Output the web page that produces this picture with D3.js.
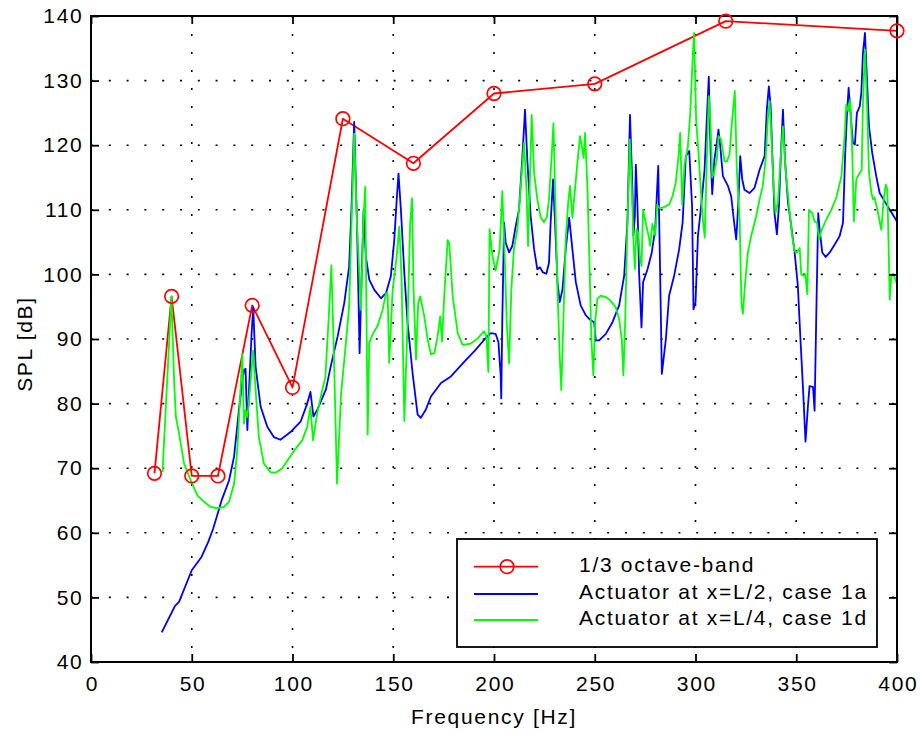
<!DOCTYPE html>
<html>
<head>
<meta charset="utf-8">
<script src="https://cdn.jsdelivr.net/npm/d3@7"></script>
<style>
  html, body { margin: 0; padding: 0; background: #fff; }
  svg text {
    font-family: "Liberation Sans", Arial, Helvetica, sans-serif;
    font-size: 21px;
    letter-spacing: 1.7px;
    fill: #000;
  }
</style>
</head>
<body>
<div id="chart"></div>
<script>
// tick values
const xTicks = [0, 50, 100, 150, 200, 250, 300, 350, 400];
const yTicks = [40, 50, 60, 70, 80, 90, 100, 110, 120, 130, 140];

// 1/3 octave-band levels
const bandFreq = [31.5, 40, 50, 63, 80, 100, 125, 160, 200, 250, 315, 400];
const bandSpl = [69.2, 96.6, 68.8, 68.8, 95.2, 82.5, 124.1, 117.2, 128.0, 129.5, 139.2, 137.7];

// actuator at x=L/2, case 1a  [Hz, dB]
const case1a = [
  [35.1, 44.6], [41.7, 48.7], [43.7, 49.3], [50, 54.2], [54.9, 56.3], [58.2, 58.6],
  [60.7, 60.7], [64.9, 65.1], [68.5, 68.1], [71, 71.8], [73.4, 79], [75, 83.1],
  [75.9, 85.2], [76.7, 85.4], [77.6, 75.9], [78.4, 82], [79.7, 90.8], [80.5, 94.9],
  [81.7, 85.7], [84.2, 79.5], [87.5, 76.4], [90.8, 74.8], [94, 74.4], [99, 75.6],
  [104, 77.2], [107.3, 80], [108.9, 81.8], [110.4, 78], [112.4, 79.1], [116.6, 82.2],
  [119, 85.8], [122.4, 90.4], [125.7, 95.6], [128.1, 101.2], [129.3, 110.5], [130.6, 123.6],
  [132, 107.9], [133.3, 87.8], [134.3, 99.7], [135.3, 110], [136.4, 102.8], [138.1, 99.2],
  [140.6, 97.6], [143.9, 96.3], [146.4, 97.1], [148.8, 99.7], [150.5, 105.3], [151.7, 111.5],
  [152.6, 115.6], [153.8, 110], [155.5, 100.2], [157.1, 92.5], [159.6, 84.7], [162.1, 78.3],
  [163.7, 77.8], [166.2, 79.1], [168.7, 81.1], [173.7, 83.2], [178.6, 84.2], [185.3, 86.5],
  [190.5, 88.2], [195.5, 90], [198.3, 90.9], [200.8, 90.8], [202.2, 89.5], [203.3, 84.4],
  [203.6, 80.8], [204.1, 92.6], [205, 108], [205.8, 104.9], [207.5, 103.4], [209.1, 104.4],
  [210.8, 107.5], [212.4, 110], [214.1, 118.3], [215.4, 125.5], [216.6, 117.3], [218.2, 109],
  [219.9, 103.9], [221.5, 100.8], [222.8, 101.1], [224.3, 100.3], [226, 100.1], [227.3, 101.8],
  [228.1, 108], [229.3, 114.7], [230.3, 108], [231.5, 98.8], [232.6, 95.7], [234, 97.7],
  [235.6, 103.9], [237.3, 108.8], [238.9, 103.9], [240.6, 98.8], [243, 95.2], [245.5, 93.7],
  [248, 92.9], [249.7, 92.6], [250.5, 89.8], [252.2, 89.8], [255.5, 90.8], [258.8, 92.6],
  [262.1, 95.2], [264.6, 99.8], [266.2, 108], [267.5, 124.7], [268.7, 113.2], [269.2, 106],
  [269.9, 109], [270.4, 117], [271.2, 110.6], [272, 100.3], [273.2, 91.8], [274, 98.8],
  [276.2, 100.8], [278.3, 103.4], [280, 107], [281.5, 116.8], [282.3, 102.9], [283.3, 84.6],
  [285.3, 90], [286.9, 96.7], [289.4, 99.8], [291.9, 103.9], [293.6, 108], [295.2, 118.3],
  [296.9, 119.1], [298.3, 110.6], [299, 94.6], [300, 95.6], [301.2, 105.9], [302.8, 110.6],
  [304.5, 116.2], [305.6, 124], [306.6, 130.6], [307.5, 118.8], [308.3, 112.4], [309.4, 117.8],
  [310.6, 120.4], [311.4, 122.4], [312.3, 119.8], [313.6, 115.2], [316.1, 113.7], [317.7, 112.1],
  [319, 108.5], [320.2, 105.4], [321.2, 110.6], [322.2, 118.3], [323.2, 114.7], [324.3, 113.1],
  [326.8, 112.6], [329.3, 113.4], [331.8, 116.2], [334.3, 118.3], [335.4, 125.5], [336.4, 129.1],
  [337.3, 126], [338.1, 118.8], [339.2, 109.5], [340.4, 106.2], [341.4, 110.6], [342.4, 118.8],
  [343.4, 125.5], [344.4, 117.8], [345.9, 111.1], [347.5, 107.5], [349.2, 103.4], [350.8, 98.2],
  [352, 90.5], [353.3, 82.7], [354.6, 74.1], [355.8, 79.6], [356.6, 82.7], [358.3, 82.6],
  [359.1, 78.9], [359.9, 93], [360.9, 109.5], [361.6, 107], [362.9, 103.4], [364.6, 102.7],
  [366.6, 103.4], [369, 104.6], [371.5, 105.9], [373.2, 108], [374.3, 118.8], [375.2, 125],
  [376, 128.9], [376.8, 125.5], [378.1, 120.4], [379.1, 120.1], [380.1, 125], [381.5, 126],
  [382.3, 128.1], [383.1, 134.3], [384.1, 137.4], [385.1, 130.2], [386.1, 122.9], [387.7, 118.8],
  [389.7, 115.2], [391.4, 112.6], [393.9, 111.3], [396.4, 110], [398.8, 108.8], [400, 108.2]
];

// actuator at x=L/4, case 1d  [Hz, dB]
const case1d = [
  [35.5, 69.4], [39.9, 96.5], [41.3, 83.1], [42.1, 78], [43.7, 75.4], [46.2, 70.7],
  [49.5, 68.1], [52.8, 65.8], [56.1, 64.8], [59.4, 64], [62.7, 63.8], [66, 64],
  [68.5, 64.8], [71, 67.6], [72.6, 72.8], [73.9, 80.5], [75.1, 87.7], [75.9, 76.9],
  [76.7, 79], [77.6, 77.9], [78.9, 82.1], [80.4, 88.2], [81.7, 82.1], [83.3, 74.8],
  [85.8, 70.7], [89.1, 69.4], [91.6, 69.3], [94.9, 70], [98.2, 71.5], [101.5, 73],
  [104.8, 74.3], [107.3, 76.4], [108.9, 79.5], [110.2, 74.3], [112.2, 78.4], [114.7, 82],
  [116.3, 84.1], [118, 93.4], [119.3, 101.4], [120.5, 88.2], [122.1, 67.6], [124.1, 81.5],
  [126.5, 89.4], [128.1, 95], [129.3, 107.9], [130.6, 121.8], [132, 107.9], [134, 94.5],
  [135.1, 107.9], [136.1, 113.6], [136.6, 97.6], [137.3, 75.2], [138.1, 89.4], [139.7, 90.7],
  [142.2, 92], [144.7, 94.5], [146.4, 97.1], [147.2, 97.1], [148, 86.3], [149.7, 97.6],
  [151.7, 102.8], [153, 107.4], [154.1, 99.7], [155.5, 77.3], [157.1, 92.5], [158.4, 107.9],
  [159.3, 111.8], [160.1, 97.6], [161.3, 86.8], [162.4, 95.6], [163.4, 96.6], [165.4, 93.5],
  [167.1, 89.9], [168.7, 87.6], [170.4, 87.8], [172, 90.4], [173.3, 93.5], [174.2, 89.6],
  [175.3, 96.6], [177, 105.3], [177.8, 104.8], [179.5, 96.6], [182, 90.9], [184.4, 89.1],
  [188.6, 89.3], [191.9, 90.1], [195, 91.2], [196.2, 90.5], [197.2, 84.9], [197.8, 107],
  [199.2, 102.9], [200.8, 100.6], [202.8, 103.9], [204.1, 112.9], [205.3, 102.9], [206.3, 92.6],
  [207.5, 86.2], [208.6, 97.7], [209.9, 103.9], [211.6, 107], [213.2, 113.2], [214.9, 120.4],
  [216.1, 113.2], [216.9, 104.4], [217.7, 113.2], [218.7, 124.7], [219.9, 115.7], [221.5, 111.6],
  [223.2, 108.8], [224.8, 108.1], [226.2, 108.8], [227.3, 111.6], [228.6, 118.3], [229.5, 123.4],
  [230.3, 113.2], [231.5, 97.7], [232.6, 87.4], [233.4, 82.1], [234.4, 92.6], [235.6, 105.4],
  [236.8, 111.1], [237.7, 113.7], [238.9, 108.8], [240.2, 113.2], [241.4, 117.3], [242.7, 121.4],
  [243.9, 119.3], [244.5, 118], [245.2, 121.9], [246.4, 113.2], [247.5, 100.3], [248.3, 90],
  [249.3, 84.4], [250.2, 92.6], [251.3, 96.2], [253, 96.7], [255.5, 96.5], [257.9, 95.9],
  [260.4, 94.9], [262.1, 93.1], [263.4, 90], [264.2, 84.4], [265.1, 92.6], [266.2, 108],
  [267.4, 120.9], [268.4, 113.2], [269.2, 105.5], [269.9, 100.8], [270.7, 107], [271.5, 106.5],
  [272.4, 102.9], [273.2, 101.3], [274, 110], [275.3, 108], [276.7, 106], [277.5, 104.4],
  [278.6, 107.8], [280, 106], [281, 110.8], [282, 110.3], [283.6, 110.3], [285.3, 110.6],
  [286.9, 110.8], [288.6, 112.1], [290.2, 114.2], [291.6, 118.3], [292.4, 121.9], [293.4, 110.8],
  [294.5, 116.8], [296.2, 119.8], [297.4, 125], [298.7, 134.3], [299.3, 137.4], [300.3, 124],
  [301.5, 118.8], [302.5, 113.7], [303.6, 108.5], [304.6, 105.7], [305.6, 117.8], [306.6, 127.6],
  [307.5, 122.9], [308.3, 115], [309.4, 116], [310.6, 117.8], [311.4, 121.4], [312.7, 120.9],
  [314.4, 117.5], [315.6, 117.5], [316.9, 118.6], [318.2, 124], [319.5, 128.4], [320.5, 116.2],
  [321.9, 108.5], [322.8, 95.6], [323.5, 93.9], [324.5, 98.2], [326, 103.4], [327.6, 105.9],
  [330.1, 109], [331.8, 111.6], [333.4, 113.7], [334.8, 117.8], [335.9, 124], [336.8, 126.8],
  [337.6, 121.9], [338.7, 113.7], [339.7, 109.5], [340.9, 111.1], [342.2, 117.8], [343.4, 122.9],
  [344.7, 116.2], [346.4, 110.6], [348, 105.9], [349.2, 103.6], [350.3, 103.4], [351.7, 104.1],
  [352.5, 100], [353.6, 99.8], [354.5, 100], [355.5, 96.9], [356.3, 110], [357.9, 109.5],
  [359.1, 108.2], [360.3, 108], [361.3, 105.4], [362.4, 106.7], [364.9, 108.5], [367.4, 110],
  [369.9, 111.9], [372.4, 115.2], [374, 121.4], [374.8, 126.3], [375.8, 125.3], [376.8, 127.1],
  [377.8, 118.8], [378.6, 108.2], [379.8, 114.7], [381.5, 115.7], [382.5, 116.2], [383.1, 126.5],
  [384.1, 134.8], [385.1, 126.5], [386.1, 115.7], [387.3, 112.6], [388.1, 111.6], [388.9, 111.9],
  [390.6, 109.5], [392.2, 106.9], [393.4, 111.6], [394.4, 113.9], [395.2, 113.1], [395.9, 103.4],
  [396.4, 96.1], [397.2, 99.7], [398.2, 100], [399.2, 99.2], [400, 98.5]
];

const legendLabels = ['1/3 octave-band', 'Actuator at x=L/2, case 1a', 'Actuator at x=L/4, case 1d'];
const seriesColors = ['#ff0000', '#0000ff', '#00ff00'];

const width = 920, height = 733;
const margin = { left: 91, right: 23, top: 16, bottom: 71 };
const plotW = width - margin.left - margin.right;
const plotH = height - margin.top - margin.bottom;

const svg = d3.select('#chart')
    .append('svg')
    .attr('width', width)
    .attr('height', height)
    .attr('viewBox', [0, 0, width, height]);

const x = d3.scaleLinear().domain([0, 400]).range([margin.left, margin.left + plotW]);
const y = d3.scaleLinear().domain([40, 140]).range([margin.top + plotH, margin.top]);

// dotted grid
const grid = svg.append('g').attr('class', 'grid');
grid.selectAll('line.h')
    .data(yTicks.slice(1, -1))
    .join('line')
    .attr('class', 'h')
    .attr('x1', x(0)).attr('x2', x(400))
    .attr('y1', d => y(d)).attr('y2', d => y(d))
    .attr('stroke', '#000')
    .attr('stroke-width', 1.6)
    .attr('stroke-dasharray', '2,15.8');
grid.selectAll('line.v')
    .data(xTicks.slice(1, -1))
    .join('line')
    .attr('class', 'v')
    .attr('x1', d => x(d)).attr('x2', d => x(d))
    .attr('y1', y(140)).attr('y2', y(40))
    .attr('stroke', '#000')
    .attr('stroke-width', 1.6)
    .attr('stroke-dasharray', '2,16');

// data lines
const line = d3.line().x(d => x(d[0])).y(d => y(d[1]));
const bandPts = bandFreq.map((f, i) => [f, bandSpl[i]]);

svg.append('path')
    .datum(bandPts)
    .attr('d', line)
    .attr('fill', 'none')
    .attr('stroke', seriesColors[0])
    .attr('stroke-width', 1.8)
    .attr('stroke-linejoin', 'round');

svg.append('path')
    .datum(case1a)
    .attr('d', line)
    .attr('fill', 'none')
    .attr('stroke', seriesColors[1])
    .attr('stroke-width', 1.8)
    .attr('stroke-linejoin', 'round');

svg.append('path')
    .datum(case1d)
    .attr('d', line)
    .attr('fill', 'none')
    .attr('stroke', seriesColors[2])
    .attr('stroke-width', 1.8)
    .attr('stroke-linejoin', 'round');

// axes (ticks pointing inward)
const tickLen = 8;
const axes = svg.append('g').attr('class', 'axes');

const xAxis = axes.append('g')
    .attr('transform', `translate(0,${y(40)})`)
    .call(d3.axisBottom(x).tickValues(xTicks).tickSize(-tickLen).tickSizeOuter(0).tickPadding(14));
const yAxis = axes.append('g')
    .attr('transform', `translate(${x(0)},0)`)
    .call(d3.axisLeft(y).tickValues(yTicks).tickSize(-tickLen).tickSizeOuter(0).tickPadding(7.5));
axes.append('g')
    .attr('transform', `translate(0,${y(140)})`)
    .call(d3.axisTop(x).tickValues(xTicks).tickSize(-tickLen).tickSizeOuter(0).tickFormat(''));
axes.append('g')
    .attr('transform', `translate(${x(400)},0)`)
    .call(d3.axisRight(y).tickValues(yTicks).tickSize(-tickLen).tickSizeOuter(0).tickFormat(''));

axes.selectAll('.domain').remove();
axes.selectAll('.tick line').attr('stroke', '#000').attr('stroke-width', 1.8);
xAxis.selectAll('.tick text').attr('dx', '0.85');

axes.append('rect')
    .attr('x', x(0)).attr('y', y(140))
    .attr('width', x(400) - x(0)).attr('height', y(40) - y(140))
    .attr('fill', 'none')
    .attr('stroke', '#000')
    .attr('stroke-width', 2);

// markers on top
svg.append('g')
    .selectAll('circle')
    .data(bandPts)
    .join('circle')
    .attr('cx', d => x(d[0]))
    .attr('cy', d => y(d[1]))
    .attr('r', 6.8)
    .attr('fill', 'none')
    .attr('stroke', seriesColors[0])
    .attr('stroke-width', 1.7);

// axis labels
svg.append('text')
    .attr('x', (x(0) + x(400)) / 2)
    .attr('y', 724)
    .attr('text-anchor', 'middle')
    .text('Frequency [Hz]');

svg.append('text')
    .attr('transform', `translate(32,${(y(40) + y(140)) / 2 + 5}) rotate(-90)`)
    .attr('text-anchor', 'middle')
    .text('SPL [dB]');

// legend
const legend = svg.append('g').attr('class', 'legend');
legend.append('rect')
    .attr('x', 457).attr('y', 539)
    .attr('width', 420).attr('height', 108)
    .attr('fill', '#fff')
    .attr('stroke', '#000')
    .attr('stroke-width', 1.8);

const rowY = [566.7, 594, 620];
const items = legend.selectAll('g.item')
    .data(legendLabels)
    .join('g')
    .attr('class', 'item')
    .attr('transform', (d, i) => `translate(0,${rowY[i]})`);

items.append('line')
    .attr('x1', 474).attr('x2', 538)
    .attr('y1', 0).attr('y2', 0)
    .attr('stroke', (d, i) => seriesColors[i])
    .attr('stroke-width', 1.8);

items.filter((d, i) => i === 0)
    .append('circle')
    .attr('cx', 507).attr('cy', 0)
    .attr('r', 6.8)
    .attr('fill', 'none')
    .attr('stroke', seriesColors[0])
    .attr('stroke-width', 1.7);

items.append('text')
    .attr('x', 579)
    .attr('y', 5)
    .text(d => d);
</script>
</body>
</html>
